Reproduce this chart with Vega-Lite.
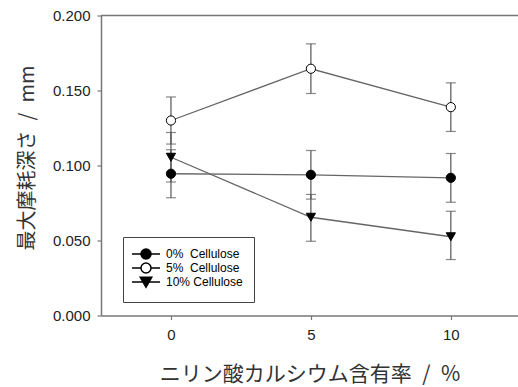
{
  "$schema": "https://vega.github.io/schema/vega-lite/v6.json",
  "autosize": {"type": "none"},
  "padding": {"left": 101, "top": 15.5, "right": 0, "bottom": 71.5},
  "width": 417,
  "height": 300,
  "background": "white",
  "config": {
    "view": {"stroke": null},
    "axis": {
      "grid": false,
      "domainColor": "#777",
      "domainWidth": 1.5,
      "tickColor": "#777",
      "tickWidth": 1.2,
      "tickSize": 4,
      "labelFont": "Liberation Sans",
      "labelFontSize": 15,
      "labelColor": "#222",
      "titleFont": "Noto Sans CJK JP",
      "titleFontWeight": "normal",
      "titleColor": "#333"
    }
  },
  "datasets": {
    "main": [
      {"series": "0%\u00a0 Cellulose", "x": 0, "y": 0.0945, "lo": 0.0785, "hi": 0.1105},
      {"series": "0%\u00a0 Cellulose", "x": 5, "y": 0.0938, "lo": 0.0776, "hi": 0.1100},
      {"series": "0%\u00a0 Cellulose", "x": 10, "y": 0.0918, "lo": 0.0755, "hi": 0.1080},
      {"series": "5%\u00a0 Cellulose", "x": 0, "y": 0.1300, "lo": 0.1143, "hi": 0.1457},
      {"series": "5%\u00a0 Cellulose", "x": 5, "y": 0.1645, "lo": 0.1480, "hi": 0.1811},
      {"series": "5%\u00a0 Cellulose", "x": 10, "y": 0.1389, "lo": 0.1227, "hi": 0.1551},
      {"series": "10% Cellulose", "x": 0, "y": 0.1055, "lo": 0.0890, "hi": 0.1220},
      {"series": "10% Cellulose", "x": 5, "y": 0.0655, "lo": 0.0495, "hi": 0.0807},
      {"series": "10% Cellulose", "x": 10, "y": 0.0525, "lo": 0.0373, "hi": 0.0695}
    ],
    "frame": [{"y": 0.2}]
  },
  "layer": [
    {
      "data": {"name": "main"},
      "mark": {"type": "line", "color": "#666", "strokeWidth": 1.3},
      "encoding": {
        "x": {
          "field": "x", "type": "quantitative",
          "scale": {"domain": [-2.5, 12.4], "nice": false, "zero": false},
          "axis": {"values": [0, 5, 10], "labelPadding": 8, "title": "ニリン酸カルシウム含有率\u2002/\u2002%", "titleFontSize": 21, "titlePadding": 21}
        },
        "y": {
          "field": "y", "type": "quantitative",
          "scale": {"domain": [0, 0.2], "nice": false},
          "axis": {"values": [0, 0.05, 0.1, 0.15, 0.2], "format": ".3f", "labelPadding": 7, "title": "最大摩耗深さ\u2002/\u2002mm", "titleFontSize": 20, "titlePadding": 15, "titleY": 142}
        },
        "detail": {"field": "series", "type": "nominal"}
      }
    },
    {
      "data": {"name": "frame"},
      "mark": {"type": "rule", "color": "#777", "strokeWidth": 1.5},
      "encoding": {
        "y": {"field": "y", "type": "quantitative"}
      }
    },
    {
      "data": {"name": "main"},
      "mark": {"type": "errorbar", "color": "#555", "ticks": {"size": 10, "thickness": 1.2}, "rule": {"strokeWidth": 1.2}},
      "encoding": {
        "x": {"field": "x", "type": "quantitative"},
        "y": {"field": "lo", "type": "quantitative", "title": "最大摩耗深さ\u2002/\u2002mm"},
        "y2": {"field": "hi"}
      }
    },
    {
      "data": {"name": "main"},
      "mark": {"type": "point", "filled": true, "stroke": "black", "strokeWidth": 1, "size": 85, "opacity": 1},
      "encoding": {
        "x": {"field": "x", "type": "quantitative"},
        "y": {"field": "y", "type": "quantitative"},
        "shape": {
          "field": "series", "type": "nominal",
          "scale": {"domain": ["0%\u00a0 Cellulose", "5%\u00a0 Cellulose", "10% Cellulose"], "range": ["circle", "circle", "triangle-down"]},
          "legend": null
        },
        "fill": {
          "field": "series", "type": "nominal",
          "scale": {"domain": ["0%\u00a0 Cellulose", "5%\u00a0 Cellulose", "10% Cellulose"], "range": ["black", "white", "black"]},
          "legend": null
        }
      }
    },
    {
      "data": {"name": "main"},
      "mark": {"type": "point", "filled": true, "opacity": 0, "stroke": "black", "strokeWidth": 1},
      "encoding": {
        "x": {"field": "x", "type": "quantitative"},
        "y": {"field": "y", "type": "quantitative"},
        "shape": {
          "field": "series", "type": "nominal",
          "scale": {"domain": ["0%\u00a0 Cellulose", "5%\u00a0 Cellulose", "10% Cellulose"], "range": [
            "M-2.8,0H2.8M1,0A1,1 0 1,1 -1,0A1,1 0 1,1 1,0Z",
            "M-2.8,0H-1M1,0H2.8M1,0A1,1 0 1,1 -1,0A1,1 0 1,1 1,0Z",
            "M-2.8,0H2.8M-1.15,-0.95L1.15,-0.95L0,1.05Z"
          ]},
          "legend": {"title": null, "orient": "none", "legendX": 22, "legendY": 221.5, "padding": 11, "strokeColor": "#444", "fillColor": "white", "symbolSize": 100, "symbolOffset": 6, "labelOffset": 14, "labelFont": "Liberation Sans", "labelFontSize": 12, "labelColor": "black", "rowPadding": -2.5, "symbolOpacity": 1,
            "encode": {"symbols": {"update": {"stroke": {"value": "black"}, "strokeWidth": {"value": 1}, "opacity": {"value": 1}}}}}
        },
        "fill": {
          "field": "series", "type": "nominal",
          "scale": {"domain": ["0%\u00a0 Cellulose", "5%\u00a0 Cellulose", "10% Cellulose"], "range": ["black", "white", "black"]},
          "legend": {"title": null, "orient": "none", "legendX": 22, "legendY": 221.5, "padding": 11, "strokeColor": "#444", "fillColor": "white", "symbolSize": 100, "symbolOffset": 6, "labelOffset": 14, "labelFont": "Liberation Sans", "labelFontSize": 12, "labelColor": "black", "rowPadding": -2.5, "symbolOpacity": 1,
            "encode": {"symbols": {"update": {"stroke": {"value": "black"}, "strokeWidth": {"value": 1}, "opacity": {"value": 1}}}}}
        }
      }
    }
  ],
  "resolve": {"scale": {"shape": "independent", "fill": "independent"}}
}
